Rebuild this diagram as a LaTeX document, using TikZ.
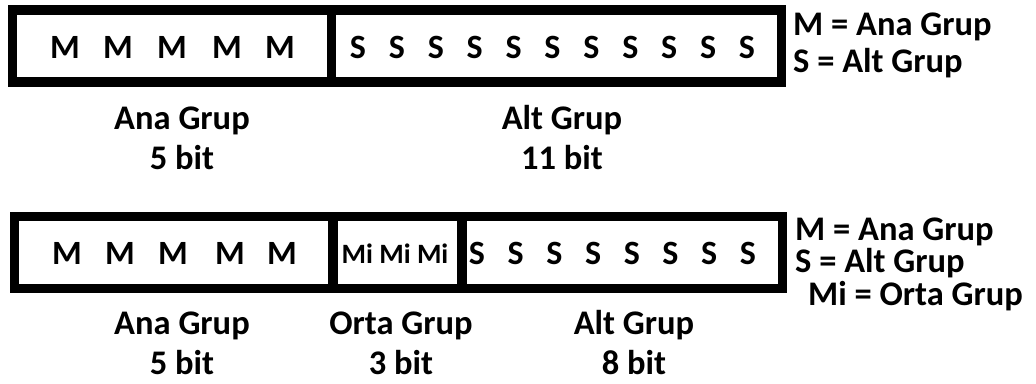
\documentclass[tikz,border=0pt]{standalone}
\usepackage{fontspec}
\setmainfont{Carlito}
\begin{document}
\begin{tikzpicture}[x=1pt,y=-1pt,
  field/.style={draw=black,line width=9.5pt,inner sep=0pt,outer sep=0pt,fill=white},
  bitchar/.style={inner sep=0pt,font=\bfseries\fontsize{34}{40}\selectfont},
  smallchar/.style={inner sep=0pt,font=\bfseries\fontsize{28}{32}\selectfont},
  caption/.style={inner sep=0pt,align=center,font=\bfseries\fontsize{34.5}{40}\selectfont},
  legend/.style={inner sep=0pt,anchor=west,font=\bfseries\fontsize{34.5}{40}\selectfont}]
\useasboundingbox (0,0) rectangle (1036,383);

% ---- 16-bit word: 5 + 11 ----
\node[field,minimum width=319pt,minimum height=72pt] (ta) at (172,46) {};
\node[field,minimum width=450pt,minimum height=72pt] (ts) at (556.5,46) {};
\foreach \x [count=\i] in {65,118,172,227,280}
  \node[bitchar] (tm\i) at (\x,47) {M};
\foreach \i in {1,...,11}
  \node[bitchar] (tsb\i) at ({358+38.9*(\i-1)},47) {S};
\node[legend] (tl1) at (793,27) {M = Ana Grup};
\node[legend] (tl2) at (793,63) {S = Alt Grup};
\node[caption] (tca) at (182,138) {Ana Grup\\5 bit};
\node[caption] (tcs) at (562,138) {Alt Grup\\11 bit};

% ---- 16-bit word: 5 + 3 + 8 ----
\node[field,minimum width=318.5pt,minimum height=72pt] (ba) at (173.75,252.5) {};
\node[field,minimum width=129pt,minimum height=72pt] (bm) at (397.5,252.5) {};
\node[field,minimum width=320.5pt,minimum height=72pt] (bs) at (622.25,252.5) {};
\foreach \x [count=\i] in {67,120,173,230,282}
  \node[bitchar] (bmb\i) at (\x,253) {M};
\node[smallchar] (bmi) at (395,254) {Mi Mi Mi};
\foreach \i in {1,...,8}
  \node[bitchar] (bsb\i) at ({477+38.7*(\i-1)},253) {S};
\node[legend] (bl1) at (795,232) {M = Ana Grup};
\node[legend] (bl2) at (795,263) {S = Alt Grup};
\node[legend] (bl3) at (808,296) {Mi = Orta Grup};
\node[caption] (bca) at (182,343) {Ana Grup\\5 bit};
\node[caption] (bcm) at (401,343) {Orta Grup\\3 bit};
\node[caption] (bcs) at (634,343) {Alt Grup\\8 bit};
\end{tikzpicture}
\end{document}
